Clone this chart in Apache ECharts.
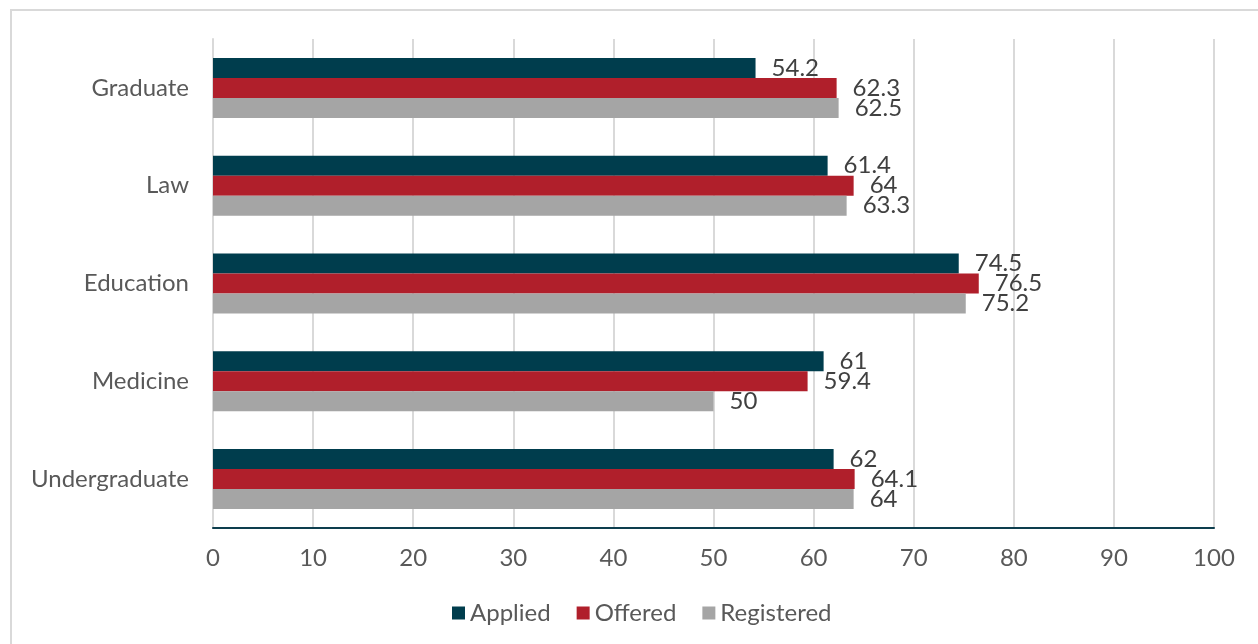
<!DOCTYPE html>
<html>
<head>
<meta charset="utf-8">
<script src="https://cdn.jsdelivr.net/npm/echarts@6/dist/echarts.min.js"></script>
<style>
  html, body { margin: 0; padding: 0; background: #fff; }
  #main { width: 1258px; height: 644px; }
</style>
</head>
<body>
<div id="main"></div>
<script>
// categories top to bottom
var categories = ['Graduate', 'Law', 'Education', 'Medicine', 'Undergraduate'];
var applied = [54.2, 61.4, 74.5, 61, 62];
var offered = [62.3, 64, 76.5, 59.4, 64.1];
var registered = [62.5, 63.3, 75.2, 50, 64];
var xTicks = [0, 10, 20, 30, 40, 50, 60, 70, 80, 90, 100];

var chart = echarts.init(document.getElementById('main'));

function barSeries(name, data, color) {
  return {
    name: name,
    type: 'bar',
    data: data,
    barWidth: 20,
    barGap: '0%',
    itemStyle: { color: color },
    label: {
      show: true,
      position: 'right',
      distance: 16,
      color: '#404040',
      fontSize: 24,
      fontFamily: 'Lato'
    }
  };
}

var option = {
  backgroundColor: '#fff',
  animation: false,
  textStyle: { fontFamily: 'Lato' },
  graphic: [{
    type: 'rect',
    shape: { x: 11, y: 10, width: 1260, height: 660 },
    style: { fill: 'none', stroke: '#d9d9d9', lineWidth: 2 },
    silent: true
  }],
  grid: { left: 213, right: 44, top: 39, bottom: 116, containLabel: false },
  legend: {
    bottom: 14,
    left: 447,
    itemWidth: 13,
    itemHeight: 13,
    itemGap: 26,
    icon: 'rect',
    data: ['Applied', 'Offered', 'Registered'],
    textStyle: { fontSize: 24, color: '#595959', fontFamily: 'Lato' }
  },
  xAxis: {
    type: 'value',
    min: xTicks[0],
    max: xTicks[xTicks.length - 1],
    interval: 10,
    axisLine: { show: true, onZero: false, lineStyle: { color: '#0d3d4d', width: 2 } },
    axisTick: { show: false },
    axisLabel: { fontSize: 24, color: '#595959', margin: 18, fontFamily: 'Lato' },
    splitLine: { show: true, lineStyle: { color: '#d9d9d9', width: 2 } }
  },
  yAxis: {
    type: 'category',
    inverse: true,
    data: categories,
    axisLine: { show: true, onZero: false, lineStyle: { color: '#d9d9d9', width: 2 } },
    axisTick: { show: false },
    axisLabel: { fontSize: 24, color: '#595959', margin: 24, fontFamily: 'Lato' }
  },
  series: [
    barSeries('Applied', applied, '#003d4d'),
    barSeries('Offered', offered, '#b01f2b'),
    barSeries('Registered', registered, '#a5a5a5')
  ]
};

chart.setOption(option);
</script>
</body>
</html>
